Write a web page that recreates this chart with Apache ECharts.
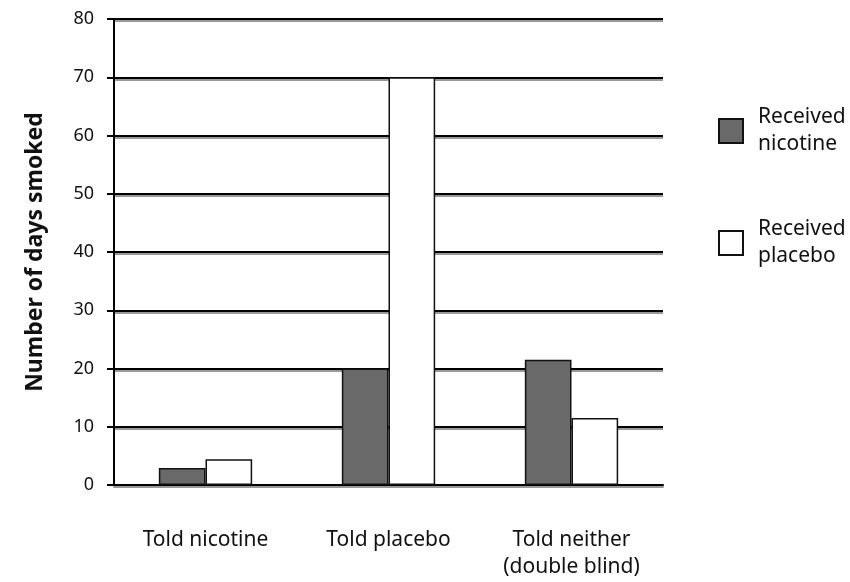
<!DOCTYPE html>
<html>
<head>
<meta charset="utf-8">
<script src="https://cdn.jsdelivr.net/npm/echarts@6/dist/echarts.min.js"></script>
<style>
  html, body { margin: 0; padding: 0; background: #fff; }
  #chart { width: 850px; height: 582px; }
</style>
</head>
<body>
<div id="chart"></div>
<script>
var categories = ['Told nicotine', 'Told placebo', 'Told neither\n(double blind)'];
var nicotine = [2.9, 20, 21.5];
var placebo = [4.4, 70, 11.5];
var yTicks = [0, 10, 20, 30, 40, 50, 60, 70, 80];

var chart = echarts.init(document.getElementById('chart'));
var font = 'Noto Sans, sans-serif';

chart.setOption({
  animation: false,
  textStyle: { fontFamily: font },
  grid: { left: 114, right: 187, top: 19, bottom: 97 },
  legend: {
    orient: 'vertical',
    left: 713,
    top: 97,
    itemWidth: 24,
    itemHeight: 24,
    itemGap: 54,
    icon: 'rect',
    textStyle: { fontSize: 21, color: '#111', lineHeight: 27, fontFamily: font, padding: [4, 0, 0, 10] },
    data: ['Received\nnicotine', 'Received\nplacebo']
  },
  xAxis: {
    type: 'category',
    data: categories,
    axisLine: { lineStyle: { color: '#000', width: 2, shadowColor: '#999', shadowOffsetY: 2 } },
    axisTick: { show: false },
    axisLabel: { interval: 0, fontSize: 21, color: '#111', margin: 42, lineHeight: 27, fontFamily: font }
  },
  yAxis: {
    type: 'value',
    min: yTicks[0],
    max: yTicks[yTicks.length - 1],
    interval: 10,
    name: 'Number of days smoked',
    nameLocation: 'middle',
    nameGap: 67,
    nameTextStyle: { fontSize: 23, fontWeight: 'bold', color: '#111', fontFamily: font },
    axisLine: { show: true, lineStyle: { color: '#000', width: 2 } },
    axisTick: { show: true, length: 7, lineStyle: { color: '#000', width: 2 } },
    axisLabel: { fontSize: 18, color: '#111', margin: 20, fontFamily: font },
    splitLine: { lineStyle: { color: '#000', width: 2, shadowColor: '#999', shadowOffsetY: 2 } }
  },
  series: [
    {
      name: 'Received\nnicotine',
      type: 'bar',
      data: nicotine,
      barGap: '0%',
      barCategoryGap: '49%',
      itemStyle: { color: '#696969', borderColor: '#111', borderWidth: 1.5 }
    },
    {
      name: 'Received\nplacebo',
      type: 'bar',
      data: placebo,
      itemStyle: { color: '#fff', borderColor: '#111', borderWidth: 1.5 }
    }
  ]
});
window.addEventListener('resize', function () { chart.resize(); });
</script>
</body>
</html>
